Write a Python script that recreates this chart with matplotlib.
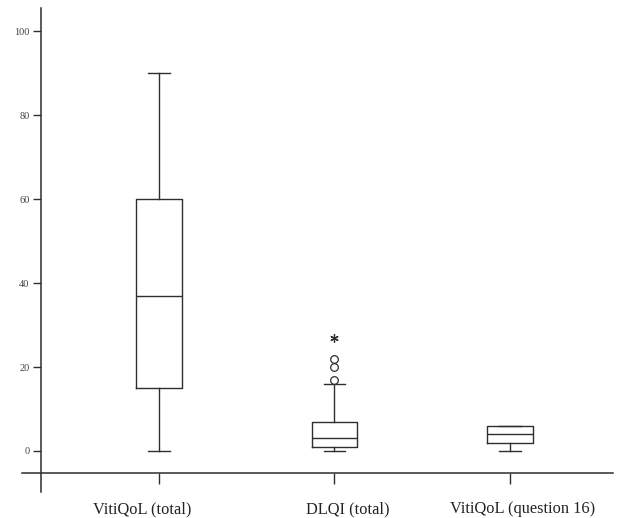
import matplotlib.pyplot as plt
from matplotlib.transforms import ScaledTranslation

# box plot summary values
labels = ['VitiQoL (total)', 'DLQI (total)', 'VitiQoL (question 16)']
whislo = [0, 0, 0]
q1 = [15, 1, 2]
med = [37, 3, 4]
q3 = [60, 7, 6]
whishi = [90, 16, 6]
outliers = [[], [17, 20, 22], []]
extremes = [[], [27], []]

line_col = '#2e2e2e'

stats = []
for i in range(len(labels)):
    stats.append(dict(label=labels[i], whislo=whislo[i], q1=q1[i], med=med[i],
                      q3=q3[i], whishi=whishi[i], fliers=outliers[i]))

fig = plt.figure(figsize=(6.33, 5.18), dpi=100)
ax = fig.add_axes([22 / 633, 26 / 518, 591 / 633, 484 / 518])

pos = [1, 2, 3]
ax.bxp(stats, positions=pos, widths=0.26, capwidths=0.123,
       boxprops=dict(color=line_col, linewidth=1.0),
       medianprops=dict(color=line_col, linewidth=1.0),
       whiskerprops=dict(color=line_col, linewidth=1.0),
       capprops=dict(color=line_col, linewidth=1.0),
       flierprops=dict(marker='o', markersize=5.5, markerfacecolor='white',
                       markeredgecolor=line_col, markeredgewidth=0.9))

# extreme values drawn with asterisk
for p, ext in zip(pos, extremes):
    if ext:
        ax.plot([p] * len(ext), ext, linestyle='none', marker=(6, 2, 0),
                markersize=6, color=line_col, markeredgewidth=0.9)

ax.set_xlim(0.22, 3.587)
ax.set_ylim(-9.8, 105.6)

ax.spines['top'].set_visible(False)
ax.spines['right'].set_visible(False)
ax.spines['left'].set_position(('data', 0.328))
ax.spines['bottom'].set_position(('data', -5.2))
for s in ['left', 'bottom']:
    ax.spines[s].set_color(line_col)
    ax.spines[s].set_linewidth(1.1)

ax.set_yticks([0, 20, 40, 60, 80, 100])
ax.set_xticks(pos)
ax.set_xticklabels(labels)
ax.tick_params(axis='y', direction='out', length=5.8, width=1.0, pad=2.5,
               labelsize=7.5, colors=line_col, labelcolor='#444444')
ax.tick_params(axis='x', direction='out', length=7.9, width=1.0, pad=12.5,
               labelsize=11.8, colors=line_col, labelcolor='#222222')
for t in ax.get_yticklabels() + ax.get_xticklabels():
    t.set_fontfamily('Liberation Serif')

# labels in the original are not centred on their ticks
shifts = [-12.2, 9.3, 9.0]
for t, dx in zip(ax.get_xticklabels(), shifts):
    t.set_transform(t.get_transform() + ScaledTranslation(dx / 72, 0, fig.dpi_scale_trans))

ax.patch.set_alpha(0)
fig.savefig('out.png', dpi=100)
